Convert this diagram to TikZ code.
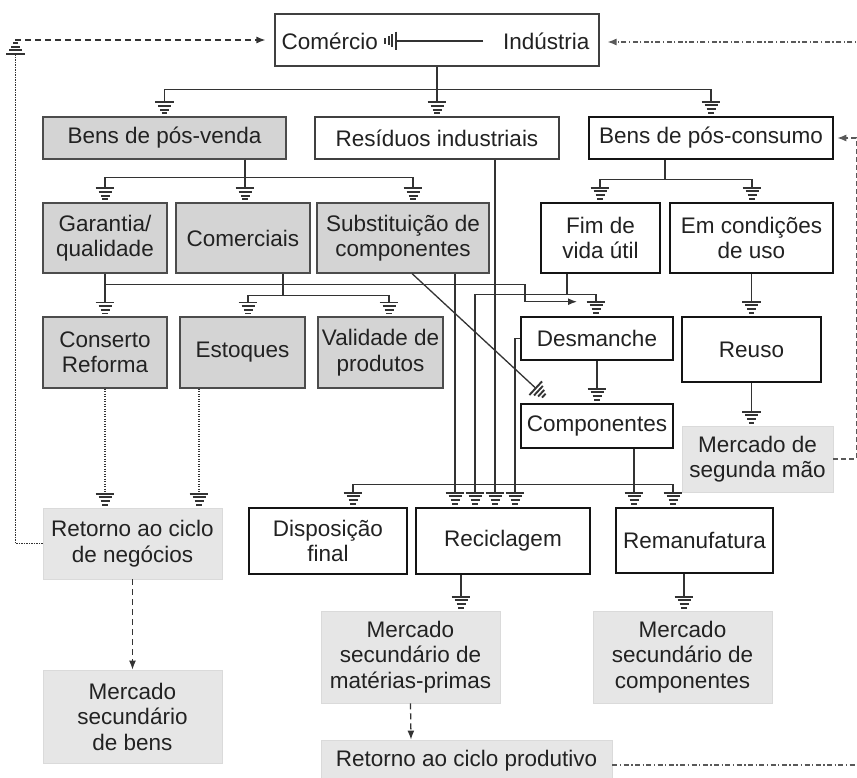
\documentclass[tikz,border=0pt]{standalone}
\usepackage{fontspec}
\setmainfont{Liberation Sans}
\usetikzlibrary{arrows.meta}
\definecolor{boxgray}{HTML}{D4D4D4}
\definecolor{lightfill}{HTML}{E6E6E6}
\definecolor{lightedge}{HTML}{DADADA}
\definecolor{linegray}{HTML}{333333}
\definecolor{txt}{HTML}{222222}

\pgfdeclarearrow{
  name = Gnd,
  setup code = {
    \pgfarrowssettipend{3pt}
    \pgfarrowssetlineend{-11pt}
    \pgfarrowssetbackend{-12pt}
    \pgfarrowssetvisualbackend{-11pt}
    \pgfarrowshullpoint{3pt}{0pt}
    \pgfarrowsupperhullpoint{-12pt}{9.3pt}
    \pgfarrowsupperhullpoint{1pt}{2.8pt}
  },
  drawing code = {
    \pgfsetdash{}{0pt}
    \pgfsetlinewidth{1.9pt}
    \pgfsetbuttcap
    \pgfpathmoveto{\pgfqpoint{-11pt}{-9.3pt}}\pgfpathlineto{\pgfqpoint{-11pt}{9.3pt}}
    \pgfpathmoveto{\pgfqpoint{-7.3pt}{-6.5pt}}\pgfpathlineto{\pgfqpoint{-7.3pt}{6.5pt}}
    \pgfpathmoveto{\pgfqpoint{-3.6pt}{-4.5pt}}\pgfpathlineto{\pgfqpoint{-3.6pt}{4.5pt}}
    \pgfpathmoveto{\pgfqpoint{0pt}{-2.6pt}}\pgfpathlineto{\pgfqpoint{0pt}{2.6pt}}
    \pgfusepathqstroke
  }
}

\tikzset{
  every node/.style={font=\fontsize{22.5}{25.5}\selectfont, text=txt, inner sep=0pt, align=center},
  gbox/.style={draw=black!70, fill=boxgray, line width=1.1pt},
  wbox/.style={draw=black!75, fill=white, line width=1.1pt},
  tbox/.style={draw=black!92, fill=white, line width=2.6pt},
  lbox/.style={draw=lightedge, fill=lightfill, line width=0.8pt},
  conn/.style={draw=linegray, line width=1.3pt},
  gl/.style={conn, -Gnd},
  arr/.style={-{Latex[length=9pt,width=7pt]}},
  dotln/.style={dash pattern=on 1.2pt off 1.3pt},
  dashln/.style={dash pattern=on 6pt off 4pt},
  dashdotln/.style={dash pattern=on 5pt off 2.5pt on 1.3pt off 2.5pt},
  sz/.style 2 args={minimum width=#1pt, minimum height=#2pt}
}

\begin{document}
\begin{tikzpicture}[x=1pt, y=-1pt]
\useasboundingbox (0,0) rectangle (857,778);
\fill[white] (0,0) rectangle (857,778);

% ---------- nodes ----------
\node[wbox, sz={324}{52}] (top) at (437,40) {};
\node[anchor=east] (comm) at (378,41) {Comércio};
\node[anchor=west] (ind) at (503,41) {Indústria};

\node[gbox, sz={243}{42}] (bpv) at (164.5,138) {Bens de pós-venda};
\node[wbox, sz={244}{42}] (res) at (437,138) {Resíduos industriais};
\node[tbox, sz={244}{42}] (bpc) at (711,138) {Bens de pós-consumo};

\node[gbox, sz={124}{70}] (gar) at (105,238) {Garantia/\\qualidade};
\node[gbox, sz={134}{70}] (com) at (243,238) {Comerciais};
\node[gbox, sz={172}{70}] (sub) at (403,238) {Substituição de\\componentes};
\node[tbox, sz={119}{70}] (fim) at (600.5,238) {Fim de\\vida útil};
\node[tbox, sz={163}{70}] (emc) at (751.5,238) {Em condições\\de uso};

\node[gbox, sz={124}{71}] (con) at (105,352.5) {Conserto\\Reforma};
\node[gbox, sz={125}{71}] (est) at (242.5,352.5) {Estoques};
\node[gbox, sz={125}{71}] (val) at (380.5,352.5) {Validade de\\produtos};
\node[tbox, sz={152}{43}] (des) at (597,338.5) {Desmanche};
\node[tbox, sz={139}{65}] (reu) at (751.5,349.5) {Reuso};

\node[tbox, sz={152}{44}] (cmp) at (597,426) {Componentes};
\node[lbox, sz={151}{66}] (msm) at (757.5,459) {Mercado de\\segunda mão};

\node[lbox, sz={179}{71}] (ret) at (132.5,543.5) {Retorno ao ciclo\\de negócios};
\node[tbox, sz={158}{66}] (dis) at (328,541) {Disposição\\final};
\node[tbox, sz={174}{66}] (rec) at (503,541) {Reciclagem};
\node[tbox, sz={157}{65}] (rem) at (694.5,540.5) {Remanufatura};

\node[lbox, sz={179}{93}] (msb) at (132.5,716.5) {Mercado\\secundário\\de bens};
\node[lbox, sz={179}{92}] (mmp) at (410.5,657) {Mercado\\secundário de\\matérias-primas};
\node[lbox, sz={179}{92}] (mcp) at (682.5,657) {Mercado\\secundário de\\componentes};
\node[lbox, sz={291}{42}] (rcp) at (466.5,761) {Retorno ao ciclo produtivo};

% ---------- connectors ----------
% inside top box
\draw[gl] ([xshift=-20pt]ind.west) -- ([xshift=4pt]comm.east);

% top -> level 1
\draw[gl] (top.south) -- ++(0,23) -| (bpv.north);
\draw[gl] (top.south) -- (res.north);
\draw[gl] (top.south) -- ++(0,23) -| (bpc.north);

% bens de pos-venda -> level 2
\draw[gl] ([xshift=80.5pt]bpv.south) -- ++(0,18) -| (gar.north);
\draw[gl] ([xshift=80.5pt]bpv.south) -- ([xshift=2pt]com.north);
\draw[gl] ([xshift=80.5pt]bpv.south) -- ++(0,18) -| ([xshift=10pt]sub.north);

% bens de pos-consumo -> level 2
\draw[gl] ([xshift=-46pt]bpc.south) -- ++(0,19) -| ([xshift=-0.5pt]fim.north);
\draw[gl] ([xshift=-46pt]bpc.south) -- ++(0,19) -| ([xshift=0.5pt]emc.north);

% garantia
\draw[gl] (gar.south) -- (con.north);
\draw[conn, arr] (gar.south) -- ++(0,11) -| ([xshift=-72pt,yshift=14pt]des.north) -- ([xshift=-20pt,yshift=14pt]des.north);

% comerciais
\draw[gl] ([xshift=40pt]com.south) -- ++(0,22) -| ([xshift=5.5pt]est.north);
\draw[gl] ([xshift=40pt]com.south) -- ++(0,22) -| ([xshift=8.5pt]val.north);

% substituicao
\draw[gl] ([xshift=9pt]sub.south) -- ([xshift=-51pt,yshift=5pt]cmp.north);
\draw[gl] ([xshift=52pt]sub.south) -- ([xshift=-48pt]rec.north);

% residuos
\draw[gl] ([xshift=58pt]res.south) -- ([xshift=-8pt]rec.north);

% fim de vida util
\draw[gl] ([xshift=-33.5pt]fim.south) -- ++(0,20) -| ([xshift=-1pt]des.north);
\draw[gl] ([xshift=-33.5pt]fim.south) -- ++(0,20) -| ([xshift=-28pt]rec.north);

% desmanche
\draw[gl] (des.south) -- (cmp.north);
\draw[gl] (des.west) -| ([xshift=12pt]rec.north);

% em condicoes / reuso
\draw[gl] (emc.south) -- (reu.north);
\draw[gl] (reu.south) -- ([xshift=-6pt]msm.north);

% componentes
\draw[gl] ([xshift=37pt]cmp.south) -- ([xshift=-60.5pt]rem.north);
\draw[gl] ([xshift=37pt]cmp.south) -- ++(0,35) -| ([xshift=-21.5pt]rem.north);
\draw[gl] ([xshift=37pt]cmp.south) -- ++(0,35) -| ([xshift=25pt]dis.north);

% reciclagem / remanufatura
\draw[gl] ([xshift=-42pt]rec.south) -- ([xshift=50.5pt]mmp.north);
\draw[gl] ([xshift=-10.5pt]rem.south) -- ([xshift=1.5pt]mcp.north);

% dotted into retorno
\draw[gl, dotln] (con.south) -- ([xshift=-27.5pt]ret.north);
\draw[gl, dotln] ([xshift=-43.5pt]est.south) -- ([xshift=66.5pt]ret.north);

% dashed arrows
\draw[conn, dashln, arr] (ret.south) -- (msb.north);
\draw[conn, dashln, arr] (mmp.south) -- ([xshift=-55.5pt]rcp.north);

% feedback to comercio
\coordinate (lc) at ([xshift=-259pt]top.west);
\draw[gl, dotln] (ret.west) -| (lc);
\draw[conn, dashln, arr] (lc) -- ([xshift=-9pt]top.west);

% mercado de segunda mao -> bens de pos-consumo
\draw[conn, draw=black!65, dash pattern=on 5pt off 3pt, arr] (msm.east) -- ++(23,0) |- ([xshift=3pt]bpc.east);

% retorno ao ciclo produtivo -> industria
\draw[conn, draw=black!65, dashdotln, arr] ([yshift=-4pt]rcp.east) -- ++(250,0) |- ([xshift=8pt,yshift=-2pt]top.east);

\end{tikzpicture}
\end{document}
